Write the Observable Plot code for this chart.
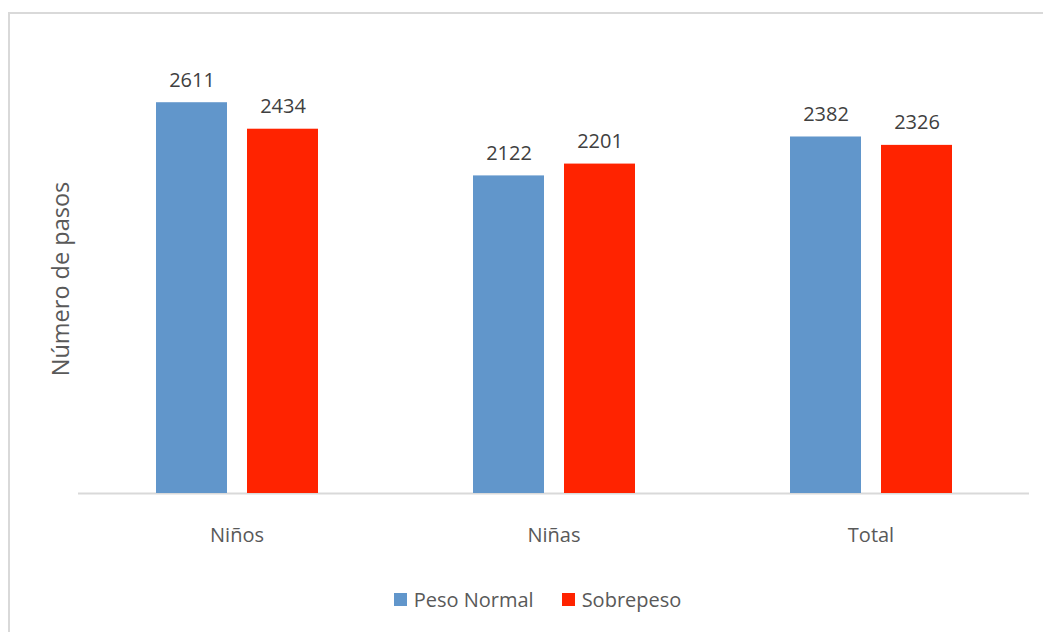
<!DOCTYPE html>
<html>
<head>
<meta charset="utf-8">
<script src="https://cdn.jsdelivr.net/npm/d3@7"></script>
<script src="https://cdn.jsdelivr.net/npm/@observablehq/plot@0.6"></script>
<style>
  html, body { margin: 0; padding: 0; background: #fff; width: 1043px; height: 632px; overflow: hidden; }
  #frame { position: absolute; left: 8px; top: 12px; width: 1200px; height: 800px; border: 2px solid #d9d9d9; box-sizing: border-box; }
  #chart { position: absolute; left: 0; top: 0; width: 1043px; }
  #legend { display: flex; justify-content: center; margin-top: -5px; padding-left: 32px; }
  .lg-swatch { margin-right: 28px !important; }
  .lg-swatch:last-child { margin-right: 0 !important; }
  .lg-swatch > svg { margin-right: 7px !important; }
</style>
</head>
<body>
<div id="frame"></div>
<div id="chart"></div>
<script>
const categories = ["Niños", "Niñas", "Total"];
const series = ["Peso Normal", "Sobrepeso"];
const pesoNormal = [2611, 2122, 2382];
const sobrepeso = [2434, 2201, 2326];
const colors = ["#6196CB", "#FF2300"];
const yLabel = "Número de pasos";

const data = [];
categories.forEach((c, i) => {
  data.push({category: c, series: series[0], value: pesoNormal[i]});
  data.push({category: c, series: series[1], value: sobrepeso[i]});
});

const H = 588;
const font = "'Open Sans', sans-serif";

const chart = Plot.plot({
  width: 1043,
  height: H,
  marginTop: 44,
  marginBottom: H - 493,
  marginLeft: 78,
  marginRight: 14,
  style: {fontFamily: font, fontSize: "20px", background: "transparent", overflow: "visible"},
  fx: {domain: categories, padding: 0, axis: null, label: null},
  x: {domain: series, paddingInner: 0.22, paddingOuter: 0.851, axis: null},
  y: {domain: [0, 3000], axis: null},
  color: {domain: series, range: colors},
  marks: [
    Plot.ruleY([0], {stroke: "#d9d9d9", strokeWidth: 2}),
    Plot.barY(data, {fx: "category", x: "series", y: "value", fill: "series"}),
    Plot.text(data, {fx: "category", x: "series", y: "value", text: d => String(d.value), lineAnchor: "bottom", dy: -16, fill: "#404040", fontSize: 20}),
    Plot.axisFx({anchor: "bottom", tickSize: 0, tickPadding: 34, label: null, fontSize: 20, color: "#595959"}),
    Plot.text([{category: categories[0]}], {fx: "category", text: () => yLabel, frameAnchor: "left", textAnchor: "middle", rotate: -90, dx: -17, dy: 10, fill: "#595959", fontSize: 23.5})
  ]
});
document.getElementById("chart").appendChild(chart);

const legend = Plot.legend({
  color: {domain: series, range: colors},
  swatchSize: 13,
  className: "lg",
  style: {fontFamily: font, fontSize: "20px", color: "#595959"}
});
const lw = document.createElement("div");
lw.id = "legend";
lw.appendChild(legend);
document.getElementById("chart").appendChild(lw);
</script>
</body>
</html>
